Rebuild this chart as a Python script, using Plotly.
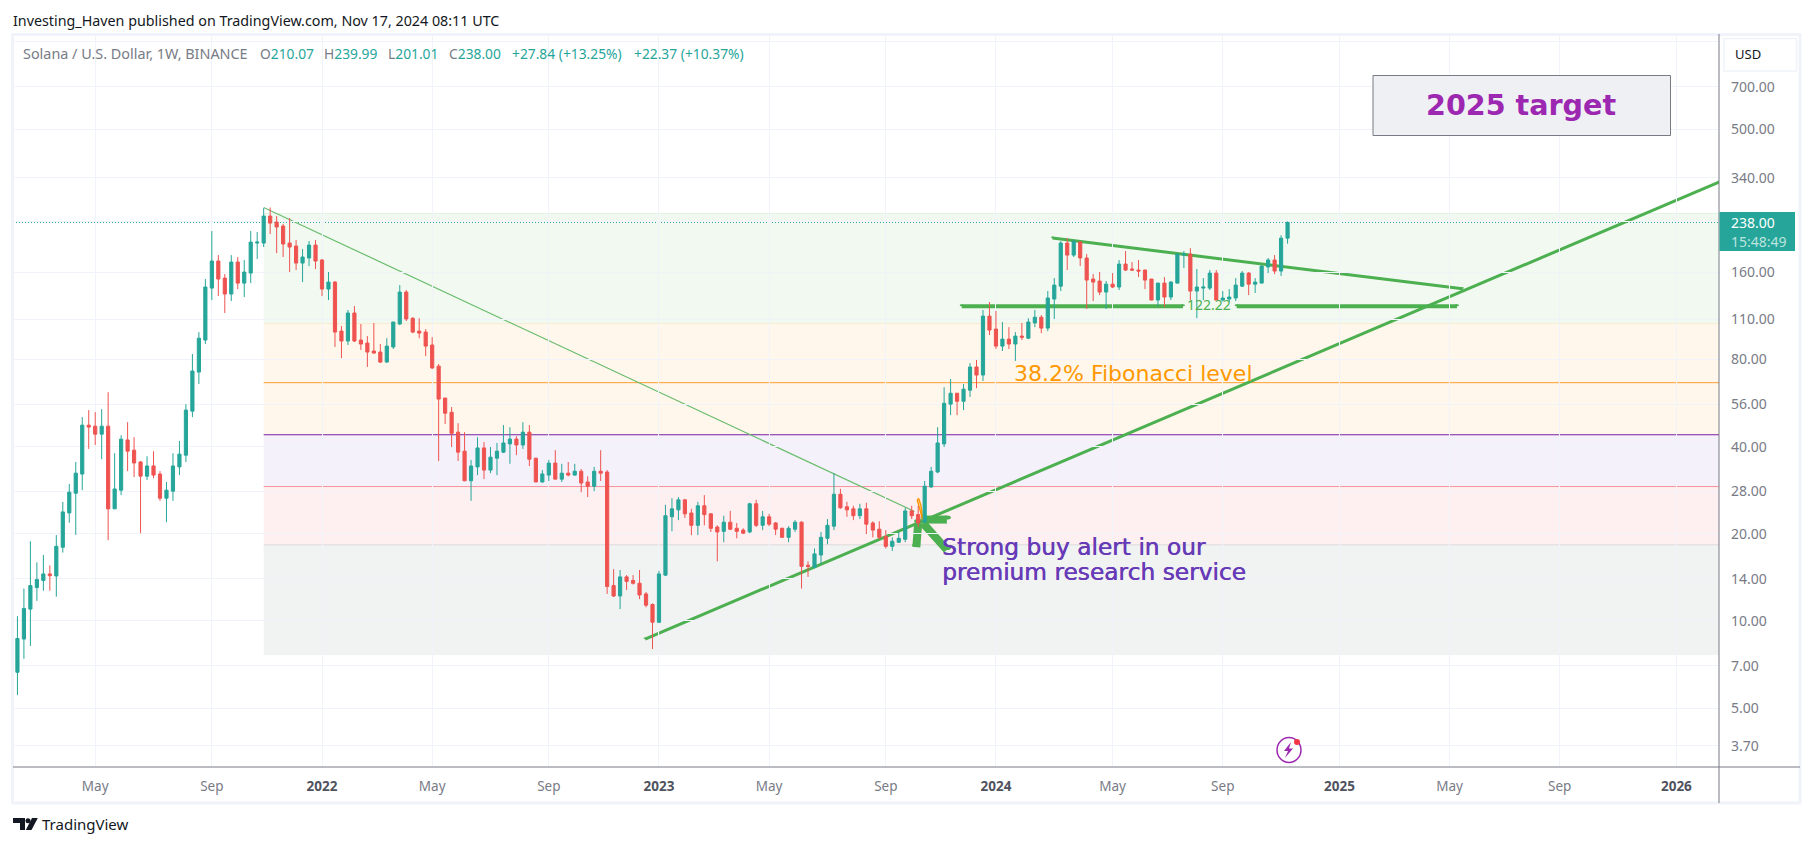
import pandas as pd
import plotly.graph_objects as go

WEEK_STARTS = pd.date_range("2021-02-08", periods=197, freq="7D").strftime("%Y-%m-%d").tolist()

OPENS = [6.65,8.66,10.99,13.04,13.8,14.54,14.3,17.97,23.62,27.62,
32.17,47.47,47.08,44.19,47.08,24.39,28.3,42.2,38.9,35.42,
31.64,34.31,32.17,26.55,28.07,34.06,37.38,53.07,72.4,93.4,
141.2,175.1,152.9,134.7,173.7,146.9,159.1,202,202,250.4,
238.7,231.2,202,197.2,172.3,179.4,198.8,176.5,140.1,148.1,
100.3,92.7,115.8,93.4,91.2,85.6,84.9,78.4,88.4,106.1,
136.8,111.1,100.3,99.5,89.8,75.9,58.9,52.6,44.9,38.6,
30.5,34.06,39.6,33.2,36.5,38.3,40.9,42.5,40.55,44.9,
36.5,30.2,31.9,35.1,30.9,32.4,31.9,32.9,30.2,29.2,
32.9,32.7,13.25,12.2,14.2,13.8,13.5,12.4,11.4,9.9,
14.4,22.9,24.2,26.2,23.6,21.4,25,23.45,21.1,20.4,
21.94,20.9,20.6,20.3,25.4,21.4,22.9,21.8,20.9,19.45,
20.75,21.94,15.57,15.3,16.9,19.3,21.25,27.4,24.8,24.4,
23.1,24.4,21.8,20.75,19.6,18.1,18.7,19.15,24,23.3,
21.94,29.04,32.7,40.9,56.1,61.2,57.4,62.7,75.4,70.7,
113,101.9,89,94.1,90.5,96.4,94.8,107,112,102.7,
129.4,143.4,202,183.6,203.6,179.4,151.7,149.3,136.8,145.7,
142.4,170.9,164.3,163,163,151.7,128.4,146.9,131.5,146.9,
183.6,185,137.9,141.2,141.2,159.1,128.4,129.4,130.5,143.4,
159.1,145.7,146.9,167,176.5,161.7,210.07]

HIGHS = [10.39,12.94,18.85,15.94,16.91,15.57,19.8,25.78,29.75,35.42,
50.6,53.5,52.64,53.9,61.7,37.97,43.82,48.61,43.14,35.7,
37.07,38.59,32.93,30.21,37.97,41.86,56.1,83.6,99.5,151.7,
222.3,183.6,157.9,183.6,180.8,176.5,222.3,220.5,266.9,268,
250.4,235.1,246.4,206.9,192.6,205.2,206.9,177.9,160.4,149.3,
104.4,118.6,122.4,106.1,96.4,107,90.5,94.8,107.8,144.6,
139,112,111.1,101.9,95.6,77.2,58.9,54.8,48.2,44.9,
36,43.1,41.5,39.9,41.2,47.5,46.7,43.5,48.6,47.5,
36.6,33.2,36,38.9,34.9,35.4,34.9,33.5,31.6,34.06,
38.9,33.2,15.1,15,14.4,14.4,15,12.6,11.5,14.9,
25.2,26.55,26.8,26.4,24.4,25.8,27.2,23.5,21.4,23.1,
24,21.8,20.9,25.6,26.2,24,23.45,21.94,21,21.25,
22.3,22.1,16.07,17.8,20.3,22.5,32.4,28.6,25.8,25,
25.4,25.6,22.1,22.1,20.6,19.45,20.3,24.6,25,25,
30.45,34.06,46.7,64.2,68.5,61.3,65.8,77.8,79.7,118.6,
126.4,117.7,107.8,103.5,99.5,107,111.1,118.6,113.9,137.9,
152.9,205.2,210.3,205.5,205.2,185,157.9,160.4,149.3,159.1,
176.5,189.6,173.7,176.5,163.3,152,147.2,154.1,149.3,186.5,
189.6,194,164.3,152.9,163,163,137.9,140.1,152.9,161.7,
160.4,152.9,169.5,179.4,183.6,215,239.99]

LOWS = [5.55,7.40,8.20,11.73,12.72,12.72,12.13,17.23,21.83,19.84,
28.3,39.29,40.55,36.22,19.0,24.39,27.2,32.93,31.41,20.1,
30.7,31.14,25.99,21.94,25.99,31.91,35.42,50.6,65.8,90.5,
128.4,132.5,115.8,127.4,140.1,131.5,146.9,177.9,195.7,217.1,
186.5,180.8,160.4,163,148.1,168.2,164.3,132.5,128.4,88.4,
80.9,89.8,91.9,86.3,75.4,84,77.8,78,87,105.2,
108.6,98.7,94.8,82.2,74.2,35.7,47.9,39.9,35.7,30.4,
26,31.9,30.9,32.4,31.9,38,34.9,37.4,39.3,34.3,
30.2,30.1,30.45,30.9,30.2,31.6,31.8,27.85,26.8,28.07,
30.45,12.4,12.1,10.99,12.8,13.36,11.9,11.15,8.0,9.83,
14.3,20.4,22.3,22.7,19.8,19.8,21.4,20.3,16.07,18.7,
20.6,19.3,19.96,20.1,21.1,20.6,21.25,19.8,19.4,18.7,
20.3,12.94,14.2,15.2,15.7,18.4,20.6,24.4,22.9,22.3,
22.5,19.96,19.45,19.15,17.8,17.46,18.65,18.7,22.5,21.1,
21.8,28.8,32.4,39.9,51.4,51.4,53.5,59.4,63.7,67.4,
97.2,87,85.6,87,79.1,93.4,94.1,103.5,98.7,100.3,
110.4,137.9,163,180.8,168.2,119.5,127.4,133.6,119.5,141.2,
139,161.7,161.7,154.1,140.1,128.2,122.4,121.4,128.4,146.7,
165.6,128.4,111.1,128.4,139,128.2,127,126.4,127.4,142.4,
133.6,135.8,146.7,159.1,157.9,155.4,201.01]

CLOSES = [8.70,11.05,13.25,13.9,14.54,14.33,18.1,23.81,27.85,32.4,
47.47,46.73,44.19,47.08,24.39,28.58,42.45,38.59,35.14,31.64,
34.31,31.91,26.55,28.3,34.31,37.69,53.5,73.0,94.8,142.4,
175.1,151.7,134.7,173.7,146.9,160.4,203.6,203.6,250.4,236.8,
229.5,200.5,195.7,172.3,180.8,198.8,175.1,140.1,148.1,99.5,
92.7,115.8,92.7,90.5,84.9,84.2,78.4,89.0,107.8,136.8,
110.4,99.5,98.7,89.0,74.8,58.4,52.2,44.5,38.3,30.5,
34.3,39.6,33.2,36.8,38.6,41.2,42.5,40.55,44.9,36.2,
30.2,32.2,35.1,30.9,32.4,31.9,32.9,29.96,29.2,32.9,
32.4,13.15,12.2,14.2,13.7,13.5,12.3,11.34,9.9,14.54,
23.1,24.4,26.2,23.45,21.4,25,23.3,20.9,20.3,21.94,
20.75,20.4,20.1,25.4,21.4,22.9,21.6,20.75,19.45,20.9,
21.94,15.44,15.44,17.05,19.45,21.4,27.4,24.6,24.2,23.1,
24.4,21.6,20.6,19.45,18.1,18.85,19.3,24,23.1,21.8,
29.2,32.9,41.2,56.5,61.2,57.4,63.2,75.4,70.7,113,
101.1,89,94.1,90.5,96.4,95.6,107.8,112,102.7,130.5,
144.6,202,183.6,205.2,179.4,150.5,148.1,136.8,145.7,142.4,
170.9,163,163,161.7,150.5,128.4,146.9,131.5,148.1,185,
185,137.9,142.4,142.4,159.1,128.4,130.5,131.5,144.6,159.1,
145.7,148.1,168.2,176.5,161.7,210.07,238]

Y_TICKS = [1000, 700, 500, 340, 240, 160, 110, 80, 56, 40, 28, 20, 14, 10, 7, 5, 3.7]
Y_LABELS = ["", "700.00", "500.00", "340.00", "", "160.00", "110.00", "80.00", "56.00", "40.00",
            "28.00", "20.00", "14.00", "10.00", "7.00", "5.00", "3.70"]
X_TICKS = ["2021-05-03","2021-09-06","2022-01-03","2022-05-02","2022-09-05","2023-01-02","2023-05-01",
           "2023-09-04","2024-01-01","2024-05-06","2024-09-02","2025-01-06","2025-05-05","2025-09-01","2026-01-05"]
X_LABELS = ["May","Sep","2022","May","Sep","2023","May","Sep","2024","May","Sep","2025","May","Sep","2026"]

FIB_START = "2021-11-01"
FIB_LEVELS = [255.5, 106.5, 66.55, 43.98, 29.13, 18.33, 7.65]
FIB_FILLS = ["rgba(76,175,80,0.08)", "rgba(255,152,0,0.08)", "rgba(255,152,0,0.08)", "rgba(103,58,183,0.07)",
             "rgba(242,54,69,0.08)", "rgba(120,130,130,0.10)"]
FIB_LINES = ["rgba(76,175,80,0.12)", "rgba(255,152,0,0.12)", "#ff9d33", "#7b1fa2", "#f7939b",
             "rgba(120,123,134,0.18)", "rgba(120,123,134,0.03)"]

LAST_PRICE = 238.0
SUPPORT_LEVEL = 122.22
X_RANGE = ["2021-02-03 05:00", "2026-02-20 01:00"]
Y_RANGE_LOG = [0.4956, 3.0206]

# (start date, start price, end date, end price, colour, width, round ends)
G = "#4caf50"
DRAWN_LINES = [
    ("2021-11-01", 268, "2023-10-05", 23.9, "#6bbd6e", 1.2, False),
    ("2022-12-18", 8.66, "2026-02-20", 328, G, 3, True),
    ("2024-03-02", 210.2, "2025-05-19", 140.4, G, 3, True),
    ("2023-11-25", SUPPORT_LEVEL, "2024-07-21", SUPPORT_LEVEL, G, 4, True),
    ("2024-09-17", SUPPORT_LEVEL, "2025-05-13", SUPPORT_LEVEL, G, 4, True),
    ("2023-11-09", 17.6, "2023-10-14", 21.8, G, 8, True),
    ("2023-10-07", 18.0, "2023-10-09", 21.8, G, 8, True),
    ("2023-11-09", 22.4, "2023-10-16", 22.4, G, 8, True),
    ("2023-10-08", 26.2, "2023-10-09 12:00", 26.5, "#ff9800", 1.5, False),
    ("2023-10-09 12:00", 26.5, "2023-10-12", 25.0, "#ff9800", 1.5, False),
    ("2023-10-12", 25.0, "2023-10-14", 22.3, "#ff9800", 1.5, False),
    ("2023-10-14", 22.3, "2023-10-11", 24.2, "#ff9800", 1.5, False),
    ("2023-10-11", 24.2, "2023-10-08", 26.2, "#ff9800", 1.5, False),
]

TOP, BOTTOM, LEFT, RIGHT = 36, 767, 13, 1719
W, H = 1814, 846
def px(x): return (x - LEFT) / (RIGHT - LEFT)
def py(y): return 1 - (y - TOP) / (BOTTOM - TOP)

shapes = []
for i, fill in enumerate(FIB_FILLS):
    shapes.append(dict(type="rect", xref="x", yref="y", x0=FIB_START, x1=X_RANGE[1],
                       y0=FIB_LEVELS[i + 1], y1=FIB_LEVELS[i], fillcolor=fill,
                       line=dict(width=0), layer="below"))
for lv, col in zip(FIB_LEVELS, FIB_LINES):
    shapes.append(dict(type="line", xref="x", yref="y", x0=FIB_START, x1=X_RANGE[1], y0=lv, y1=lv,
                       line=dict(color=col, width=1), layer="below"))
shapes.append(dict(type="line", xref="x", yref="y", x0=X_RANGE[0], x1=X_RANGE[1], y0=LAST_PRICE, y1=LAST_PRICE,
                   line=dict(color="#26a69a", width=1, dash="1px,2px"), layer="below"))
for x0, y0, x1, y1, col, w, rnd in DRAWN_LINES:
    shapes.append(dict(type="line", xref="x", yref="y", x0=x0, x1=x1, y0=y0, y1=y1,
                       line=dict(color=col, width=w), layer="below"))
    if rnd:
        for cx, cy in ((x0, y0), (x1, y1)):
            shapes.append(dict(type="circle", xref="x", yref="y", xsizemode="pixel", ysizemode="pixel",
                               xanchor=cx, yanchor=cy, x0=-w/2, x1=w/2, y0=-w/2, y1=w/2,
                               fillcolor=col, line=dict(width=0), layer="below"))

def rect(x0, y0, x1, y1, fill="rgba(0,0,0,0)", line=None, w=1, layer="above"):
    return dict(type="rect", xref="paper", yref="paper", x0=px(x0), x1=px(x1), y0=py(y1), y1=py(y0),
                fillcolor=fill, line=dict(color=line, width=w if line else 0), layer=layer)
def seg(x0, y0, x1, y1, col, w):
    return dict(type="line", xref="paper", yref="paper", x0=px(x0), x1=px(x1), y0=py(y0), y1=py(y1),
                line=dict(color=col, width=w), layer="above")
def path(points, fill):
    d = "M " + " L ".join(f"{px(a):.5f},{py(b):.5f}" for a, b in points) + " Z"
    return dict(type="path", xref="paper", yref="paper", path=d, fillcolor=fill, line=dict(width=0), layer="above")

# frame, axis borders, price tag, USD button, target box
shapes += [
    rect(12.5, 34.5, 1800, 803, line="#f0f3fa", w=3),
    seg(RIGHT, 34, RIGHT, 803, "#787b86", 1),
    seg(LEFT, BOTTOM, 1800, BOTTOM, "#787b86", 1),
    rect(1719.5, 212, 1795, 251, fill="#26a69a"),
    rect(1724, 38.5, 1796.5, 71, fill="#ffffff", line="#f0f3fa", w=1.5),
    rect(1373, 75.5, 1670.5, 135.5, fill="#eff0f4", line="#787b86", w=1),
]
# lightning icon
shapes += [
    dict(type="circle", xref="paper", yref="paper", x0=px(1277), x1=px(1301), y0=py(762.5), y1=py(737.5),
         line=dict(color="#9c27b0", width=1.5), fillcolor="rgba(0,0,0,0)", layer="above"),
    path([(1291,742),(1284,751),(1288,751),(1285,758),(1293,748.5),(1289,748.5)], "#9c27b0"),
    dict(type="circle", xref="paper", yref="paper", x0=px(1294), x1=px(1300), y0=py(745), y1=py(739),
         fillcolor="#f23645", line=dict(width=0), layer="above"),
]
# logo mark
shapes += [
    path([(13,818),(25,818),(25,830),(20,830),(20,823),(13,823)], "#131722"),
    dict(type="circle", xref="paper", yref="paper", x0=px(25.5), x1=px(30.5), y0=py(823.2), y1=py(818.2),
         fillcolor="#131722", line=dict(width=0), layer="above"),
    path([(32,818),(37.8,818),(31.5,830),(25.8,830)], "#131722"),
]

FONT = "Noto Sans, sans-serif"
def text(x, y, s, size, color, anchor="left", family=FONT, shadow=None):
    f = dict(size=size, color=color, family=family)
    if shadow:
        f["shadow"] = shadow
    return dict(xref="paper", yref="paper", x=px(x), y=py(y), text=s, showarrow=False, xanchor=anchor,
                yanchor="middle", align=anchor, font=f, borderpad=0, borderwidth=0)

GRAY, TEAL = "#787b86", "#26a69a"
PURPLE = "#673ab7"
annotations = [
    text(13, 20, "Investing_Haven published on TradingView.com, Nov 17, 2024 08:11 UTC", 14.3, "#131722"),
    text(23, 53.5, "Solana / U.S. Dollar, 1W, BINANCE", 14.4, GRAY),
    text(260, 53.5, f'O<span style="color:{TEAL}">210.07</span>', 13.8, GRAY),
    text(324, 53.5, f'H<span style="color:{TEAL}">239.99</span>', 13.8, GRAY),
    text(388, 53.5, f'L<span style="color:{TEAL}">201.01</span>', 13.8, GRAY),
    text(449, 53.5, f'C<span style="color:{TEAL}">238.00</span>', 13.8, GRAY),
    text(512, 53.5, "+27.84 (+13.25%)", 13.8, TEAL),
    text(634, 53.5, "+22.37 (+10.37%)", 13.8, TEAL),
    text(1735, 54.5, "USD", 13, "#131722"),
    text(1730.5, 222.5, "238.00", 14, "#ffffff"),
    text(1730.5, 241, "15:48:49", 14, "rgba(255,255,255,0.7)"),
    text(1521, 105, "<b>2025 target</b>", 28.6, "#9c27b0", "center", "DejaVu Sans"),
    text(1014, 373, "38.2% Fibonacci level", 22, "#ff9800", "left", "DejaVu Sans"),
    text(942, 546.5, "Strong buy alert in our", 23.3, PURPLE, "left", "DejaVu Sans", f"0.5px 0 0 {PURPLE}"),
    text(942, 571.5, "premium research service", 23.3, PURPLE, "left", "DejaVu Sans", f"0.5px 0 0 {PURPLE}"),
    text(1187, 304, "122.22", 14, G),
    text(42, 823.5, "TradingView", 15, "#131722"),
]

bold = {"2022", "2023", "2024", "2025", "2026"}
x_text = [f'<b><span style="color:#50535e">{t}</span></b>' if t in bold else t for t in X_LABELS]

fig = go.Figure(go.Candlestick(
    x=WEEK_STARTS, open=OPENS, high=HIGHS, low=LOWS, close=CLOSES,
    increasing=dict(line=dict(color="#26a69a", width=1), fillcolor="#26a69a"),
    decreasing=dict(line=dict(color="#ef5350", width=1), fillcolor="#ef5350"),
    whiskerwidth=0, showlegend=False, hoverinfo="skip",
))
fig.update_layout(
    width=W, height=H, paper_bgcolor="#ffffff", plot_bgcolor="#ffffff",
    margin=dict(l=LEFT, r=W - RIGHT, t=TOP, b=H - BOTTOM, autoexpand=False),
    boxgap=0.3, showlegend=False, shapes=shapes, annotations=annotations,
    font=dict(family=FONT, size=13, color=GRAY),
    xaxis=dict(type="date", range=X_RANGE, tickmode="array", tickvals=X_TICKS, ticktext=x_text,
               showgrid=True, gridcolor="#f0f3fa", gridwidth=1, zeroline=False, showline=False,
               ticks="", ticklabelstandoff=9, rangeslider=dict(visible=False), tickangle=0,
               tickfont=dict(size=13.5, color=GRAY, family=FONT)),
    yaxis=dict(type="log", side="right", range=Y_RANGE_LOG, tickmode="array", tickvals=Y_TICKS, ticktext=Y_LABELS,
               showgrid=True, gridcolor="#f0f3fa", gridwidth=1, zeroline=False, showline=False,
               ticks="", ticklabelstandoff=11, tickfont=dict(size=14, color=GRAY, family=FONT)),
)
fig.write_html("out.html", config=dict(displayModeBar=False),
               post_script="document.body.style.margin='0';document.body.style.overflow='hidden';")
